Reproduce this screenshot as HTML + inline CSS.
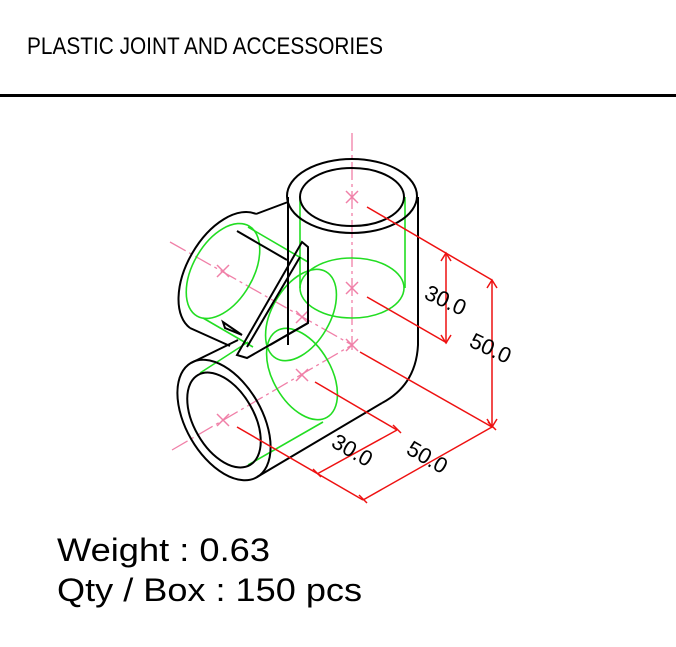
<!DOCTYPE html>
<html><head><style>body{margin:0;background:#fff}svg{display:block}</style></head>
<body>
<svg width="676" height="647" viewBox="0 0 676 647" xmlns="http://www.w3.org/2000/svg" font-family="Liberation Sans, sans-serif">
<rect width="676" height="647" fill="#fff"/>
<text x="27" y="54" font-size="24" textLength="356" lengthAdjust="spacingAndGlyphs">PLASTIC JOINT AND ACCESSORIES</text>
<rect x="0" y="94" width="676" height="3" fill="#000"/>

<!-- pink centerlines -->
<g stroke="#f080a8" stroke-width="1.3" fill="none" stroke-dasharray="18,4,3,4">
<line x1="352" y1="133" x2="352" y2="350"/>
<line x1="170" y1="242" x2="352" y2="345"/>
<line x1="172" y1="450" x2="352" y2="345"/>
</g>
<g stroke="#f080a8" stroke-width="1.5">
<path d="M346 191l12 12M358 191l-12 12M346 282l12 12M358 282l-12 12M217 265l12 12M229 265l-12 12M296 311l12 12M308 311l-12 12M296 369l12 12M308 369l-12 12M217 414l12 12M229 414l-12 12M346 339l12 12M358 339l-12 12"/>
</g>

<!-- green hidden lines -->
<g stroke="#22dd22" stroke-width="1.6" fill="none">
<line x1="300" y1="197" x2="300" y2="288"/>
<line x1="405" y1="197" x2="405" y2="288"/>
<ellipse cx="352" cy="288" rx="52" ry="30"/>
<ellipse cx="223" cy="271" rx="30" ry="52" transform="rotate(30 223 271)"/>
<ellipse cx="301" cy="315" rx="29" ry="50" transform="rotate(30 301 315)"/>
<ellipse cx="302" cy="374" rx="29" ry="50" transform="rotate(-30 302 374)"/>
<line x1="248" y1="227" x2="308" y2="262"/>
<line x1="203" y1="318" x2="253" y2="347"/>
<line x1="200" y1="373" x2="248" y2="342"/>
<line x1="248" y1="465" x2="323" y2="422"/>
</g>

<!-- black outlines -->
<g stroke="#000" stroke-width="2" fill="none">
<ellipse cx="352" cy="196" rx="65" ry="37"/>
<ellipse cx="352" cy="197" rx="52" ry="29"/>
<line x1="288" y1="197" x2="288" y2="345"/>
<path d="M418 197 L418 345 Q416 385 382 403"/>
<path d="M256 214 A38 66 30 0 0 190 328"/>
<line x1="256" y1="214" x2="288" y2="202"/>
<line x1="190" y1="328" x2="230" y2="346"/>
<line x1="237" y1="231" x2="287" y2="260"/>
<ellipse cx="224" cy="420" rx="38" ry="66" transform="rotate(-30 224 420)"/>
<ellipse cx="224" cy="420" rx="30" ry="52" transform="rotate(-30 224 420)"/>
<line x1="191" y1="363" x2="238" y2="340"/>
<line x1="257" y1="477" x2="382" y2="403"/>
<path d="M302 242 L308 247 L308 323 L247 358 L237 355 Z"/>
<path d="M300 257 L247 347"/>
<line x1="308" y1="323" x2="270" y2="345"/>
<path d="M223 322 L225 328 L242 335 Z"/>
</g>

<!-- red dimensions -->
<g stroke="#ee1111" stroke-width="1.5" fill="none">
<line x1="367" y1="207" x2="492" y2="280"/>
<line x1="367" y1="297" x2="447" y2="343"/>
<line x1="360" y1="352" x2="492" y2="427"/>
<line x1="315" y1="382" x2="397" y2="430"/>
<line x1="237" y1="427" x2="363" y2="500"/>
<line x1="446" y1="253" x2="446" y2="343"/>
<line x1="492" y1="280" x2="492" y2="427"/>
<line x1="397" y1="430" x2="317" y2="474"/>
<line x1="492" y1="427" x2="363" y2="500"/>
<path d="M441 261l5-8 5 8M441 335l5 8 5-8M487 288l5-8 5 8M487 419l5 8 5-8"/>
<path d="M393 425l8 8M313 469l8 8M488 422l8 8M359 495l8 8"/>
</g>
<g fill="#000" font-size="22">
<text transform="translate(423,298) rotate(25)">30.0</text>
<text transform="translate(468,346) rotate(25)">50.0</text>
<text transform="translate(330,446) rotate(30)">30.0</text>
<text transform="translate(405,453) rotate(30)">50.0</text>
</g>

<text x="57" y="561" font-size="32" textLength="213" lengthAdjust="spacingAndGlyphs">Weight : 0.63</text>
<text x="57" y="601" font-size="32" textLength="305" lengthAdjust="spacingAndGlyphs">Qty / Box : 150 pcs</text>
</svg>
</body></html>
